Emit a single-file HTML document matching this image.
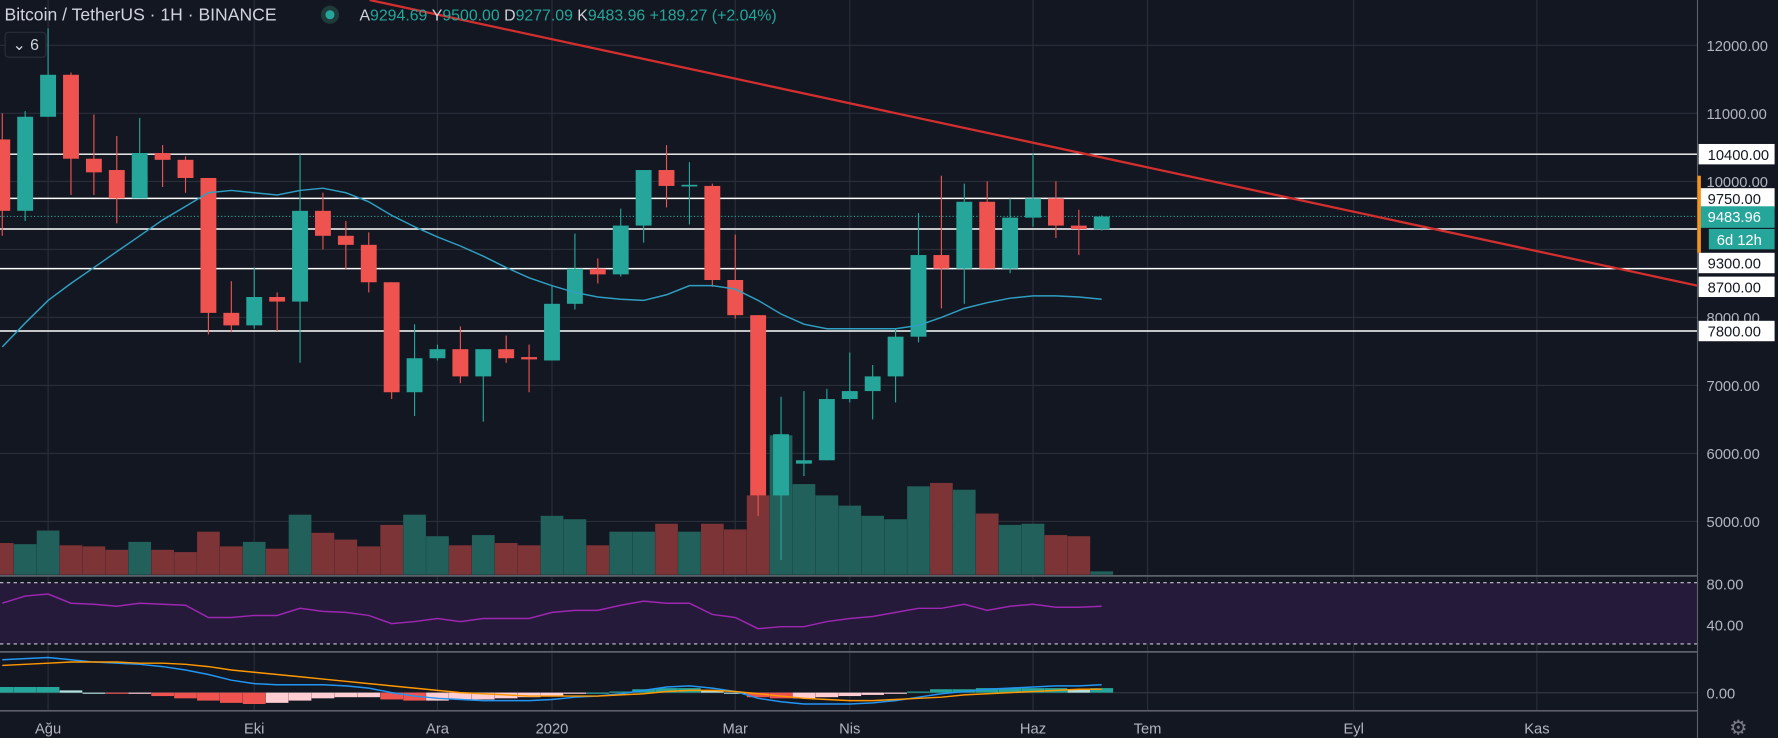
<!DOCTYPE html>
<html><head><meta charset="utf-8"><style>
html,body{margin:0;padding:0;background:#131722;overflow:hidden}
svg{display:block}
text{font-family:"Liberation Sans",sans-serif}
</style></head><body>
<svg id="c" width="1778" height="738" viewBox="0 0 1568 651" preserveAspectRatio="none" xmlns="http://www.w3.org/2000/svg">
<rect x="0" y="0" width="1568" height="651" fill="#131722"/>
<g id="grid"></g>
<rect x="0" y="514" width="1497" height="54" fill="#261a3b"/>
<line x1="0" y1="514" x2="1497" y2="514" stroke="#c8c8d0" stroke-dasharray="3,3"/>
<line x1="0" y1="568" x2="1497" y2="568" stroke="#c8c8d0" stroke-dasharray="3,3"/>
<g id="vol"></g>
<g id="hlines"></g>
<g id="candles"></g>
<g id="ind"></g>
<line x1="326" y1="0" x2="1497" y2="252" stroke="#d32f2f" stroke-width="2"/>
<line x1="0" y1="508" x2="1497" y2="508" stroke="#5d606b" stroke-width="1.5"/>
<line x1="0" y1="575" x2="1497" y2="575" stroke="#5d606b" stroke-width="1.5"/>
<line x1="0" y1="627" x2="1497" y2="627" stroke="#5d606b" stroke-width="1.5"/>
<line x1="1497" y1="0" x2="1497" y2="651" stroke="#5d606b"/>
<g id="axis"></g>
<g id="taxis"></g>
<g>
<text x="4" y="18" font-size="15.5" fill="#d1d4dc">Bitcoin / TetherUS · 1H · BINANCE</text>
<circle cx="291" cy="13" r="8" fill="#1f3b3a"/>
<circle cx="291" cy="13" r="4" fill="#26a69a"/>
<text x="317" y="18" font-size="14" fill="#26a69a"><tspan fill="#d1d4dc">A</tspan>9294.69 <tspan fill="#d1d4dc">Y</tspan>9500.00 <tspan fill="#d1d4dc">D</tspan>9277.09 <tspan fill="#d1d4dc">K</tspan>9483.96 +189.27 (+2.04%)</text>
<rect x="4.5" y="28.5" width="36" height="22" rx="3" fill="#131722" stroke="#2a2e39"/>
<text x="11" y="44" font-size="14" fill="#d1d4dc">⌄ 6</text>
</g>
<text x="1533" y="648" font-size="18" fill="#787b86" text-anchor="middle">⚙</text>
</svg>
<script>
const open=[10617,9567,10950,11567,10333,10167,9750,10417,10317,10050,8067,7883,8300,8233,9567,9200,9067,8517,6900,7400,7533,7133,7533,7417,7367,8200,8717,8633,9350,10167,9933,9933,8550,8033,5383,5850,5900,6800,6917,7133,7717,8917,8717,9700,8717,9467,9750,9350,9294.69];
const high=[11000,11033,12250,11600,10983,10667,10933,10533,10367,10050,8533,8733,8367,10400,9833,9417,9250,8517,7900,7600,7867,7533,7733,7600,8467,9233,8867,9600,10167,10533,10283,9967,9217,8033,6833,6917,6950,7483,7300,7833,9533,10083,9967,10000,9750,10417,10000,9583,9500];
const low=[9200,9417,10950,9800,9800,9383,9750,9917,9833,7750,7783,7833,7800,7333,9000,8700,8367,6800,6550,7367,7033,6467,7333,6900,7367,8117,8500,8600,9100,9617,9367,8450,7983,5083,4433,5667,5900,6750,6500,6750,7633,8133,8200,8717,8650,9333,9167,8917,9277.09];
const close=[9567,10950,11567,10333,10133,9750,10417,10317,10050,8067,7883,8300,8233,9567,9200,9067,8517,6900,7400,7533,7133,7533,7400,7383,8200,8717,8633,9350,10167,9933,9950,8550,8033,5383,6283,5900,6800,6917,7133,7717,8917,8717,9700,8717,9467,9750,9350,9300,9483.96];
const volume=[56,54,78,52,50,44,58,44,40,76,50,58,46,106,74,62,50,88,106,68,52,70,56,52,104,98,52,76,76,90,76,90,80,140,246,160,140,122,104,98,156,162,150,108,88,90,70,68,6];
const maValues=[7567,7917,8250,8500,8733,8967,9200,9433,9633,9833,9867,9833,9800,9867,9900,9833,9700,9500,9333,9183,9050,8900,8733,8583,8467,8367,8300,8267,8250,8333,8467,8467,8417,8250,8050,7900,7833,7833,7833,7833,7883,8000,8133,8217,8283,8317,8317,8300,8267];
const rsiValues=[61,68,70,61,60,58,61,60,59,47,47,49,49,56,53,52,49,41,43,46,43,46,46,46,52,54,54,59,63,61,61,50,47,36,38,38,43,46,48,52,56,56,60,54,58,60,57,57,58];
const macdLine=[580,600,620,580,540,520,500,460,400,320,220,160,140,140,140,120,80,0,-60,-100,-120,-140,-140,-140,-120,-80,-60,-20,40,100,120,80,20,-100,-160,-200,-200,-200,-180,-140,-80,-20,20,60,80,100,120,120,140];
const signalLine=[480,500,520,540,540,540,520,520,500,460,400,360,320,280,240,200,160,120,80,40,0,-20,-40,-60,-60,-60,-60,-40,-20,20,40,40,20,-20,-60,-100,-120,-140,-140,-120,-100,-80,-40,-20,0,20,40,60,60];
const priceTicks=[12000,11000,10000,9000,8000,7000,6000,5000];
const priceTickLabels=["12000.00","11000.00","10000.00","","8000.00","7000.00","6000.00","5000.00"];
const levelPrices=[10400,9750,9300,8717,7800];
const levelLabels=["10400.00","9750.00","9300.00","8700.00","7800.00"];
const levelLabelPrices=[10400,9750,8800,8450,7800];
const timeIdx=[2,11,19,24,32,37,45,50,59,67];
const timeLabels=["Ağu","Eki","Ara","2020","Mar","Nis","Haz","Tem","Eyl","Kas"];
const rsiTicks=[80,40];
const NS="http://www.w3.org/2000/svg";
const X=i=>2+20.2*i;
const Y=p=>40+(12000-p)*0.06;
const VY=v=>507-v/2;
const RY=r=>551-(r-40)*0.9;
const MY=m=>611-m*0.05;
function mk(tag,attrs,parent){const e=document.createElementNS(NS,tag);for(const k in attrs)e.setAttribute(k,attrs[k]);parent.appendChild(e);return e;}
const G=id=>document.getElementById(id);
const green="#26a69a",red="#ef5350";
// grid
priceTicks.forEach(p=>{const l=mk('line',{x1:0,x2:1497,y1:Y(p),y2:Y(p),stroke:'#2a2e39'},G('grid'));

});
timeIdx.forEach(i=>{const l=mk('line',{x1:X(i),x2:X(i),y1:0,y2:627,stroke:'#2a2e39'},G('grid'));

});
[551].forEach(y=>{const l=mk('line',{x1:0,x2:1497,y1:y,y2:y,stroke:'#3a3450'},G('grid'));

});
{const l=mk('line',{x1:0,x2:1497,y1:611,y2:611,stroke:'#363a45'},G('grid'));

}
// volume
volume.forEach((v,i)=>{const up=close[i]>=open[i];const r=mk('rect',{x:X(i)-10,y:VY(v),width:20,height:507-VY(v),fill:up?'#22605b':'#7d3437'},G('vol'));

});
// levels
levelPrices.forEach(p=>{const l=mk('line',{x1:0,x2:1497,y1:Y(p),y2:Y(p),stroke:'#ffffff','stroke-width':1.3},G('hlines'));

});
{const l=mk('line',{x1:0,x2:1497,y1:Y(close[close.length-1]),y2:Y(close[close.length-1]),stroke:green,'stroke-dasharray':'1,2'},G('hlines'));

}
// candles
open.forEach((o,i)=>{const c=close[i];const col=c>=o?green:red;
const w=mk('line',{x1:X(i),x2:X(i),y1:Y(high[i]),y2:Y(low[i]),stroke:col,'stroke-width':1},G('candles'));


const top=Y(Math.max(o,c)),bot=Y(Math.min(o,c));
const b=mk('rect',{x:X(i)-7,y:top,width:14,height:Math.max(1.5,bot-top),fill:col},G('candles'));

});
// MA
const ma=mk('polyline',{points:maValues.map((m,i)=>X(i)+','+Y(m)).join(' '),fill:'none',stroke:'#2e9fc1','stroke-width':1.3},G('ind'));


// RSI
const rs=mk('polyline',{points:rsiValues.map((r,i)=>X(i)+','+RY(r)).join(' '),fill:'none',stroke:'#9c27b0','stroke-width':1.3},G('ind'));


// MACD hist
macdLine.forEach((m,i)=>{const h=m-signalLine[i];const prev=i?macdLine[i-1]-signalLine[i-1]:h;
let col=h>=0?(h>=prev?green:'#b2dfdb'):(h<prev?red:'#ffcdd2');
const y0=MY(0),y1=MY(h);
const r=mk('rect',{x:X(i)-10,y:Math.min(y0,y1),width:20,height:Math.max(1,Math.abs(y1-y0)),fill:col},G('ind'));

});
const ml=mk('polyline',{points:macdLine.map((m,i)=>X(i)+','+MY(m)).join(' '),fill:'none',stroke:'#2196f3','stroke-width':1.3},G('ind'));


const sl=mk('polyline',{points:signalLine.map((m,i)=>X(i)+','+MY(m)).join(' '),fill:'none',stroke:'#ff9800','stroke-width':1.3},G('ind'));


// price axis
priceTicks.forEach((p,k)=>{if(!priceTickLabels[k])return;const t=mk('text',{x:1505,y:Y(p)+5,'font-size':13,fill:'#b2b5be'},G('axis'));t.textContent=priceTickLabels[k];

});
levelLabels.forEach((s,k)=>{const y=Y(levelLabelPrices[k]);
const r=mk('rect',{x:1498,y:y-9,width:67,height:18,fill:'#ffffff'},G('axis'));


const t=mk('text',{x:1506,y:y+5,'font-size':13,fill:'#131722'},G('axis'));t.textContent=s;

});
{const y=Y(close[close.length-1]);
const r=mk('rect',{x:1498,y:y-9,width:67,height:19,fill:green},G('axis'));


const t=mk('text',{x:1506,y:y+5,'font-size':13,fill:'#ffffff'},G('axis'));t.textContent=close[close.length-1].toFixed(2);


const r2=mk('rect',{x:1507,y:y+11,width:58,height:18,fill:green},G('axis'));


const t2=mk('text',{x:1514,y:y+25,'font-size':13,fill:'#ffffff'},G('axis'));t2.textContent='6d 12h';


const b=mk('rect',{x:1497,y:155,width:3,height:68,fill:'#f7931a'},G('axis'));

}
rsiTicks.forEach(r=>{const t=mk('text',{x:1505,y:RY(r)+5,'font-size':13,fill:'#b2b5be'},G('axis'));t.textContent=r.toFixed(2);

});
{const t=mk('text',{x:1505,y:MY(0)+5,'font-size':13,fill:'#b2b5be'},G('axis'));t.textContent='0.00';

}
// time axis
timeIdx.forEach((i,k)=>{const t=mk('text',{x:X(i),y:647,'font-size':13,fill:'#b2b5be','text-anchor':'middle'},G('taxis'));t.textContent=timeLabels[k];

});
</script>
</body></html>
